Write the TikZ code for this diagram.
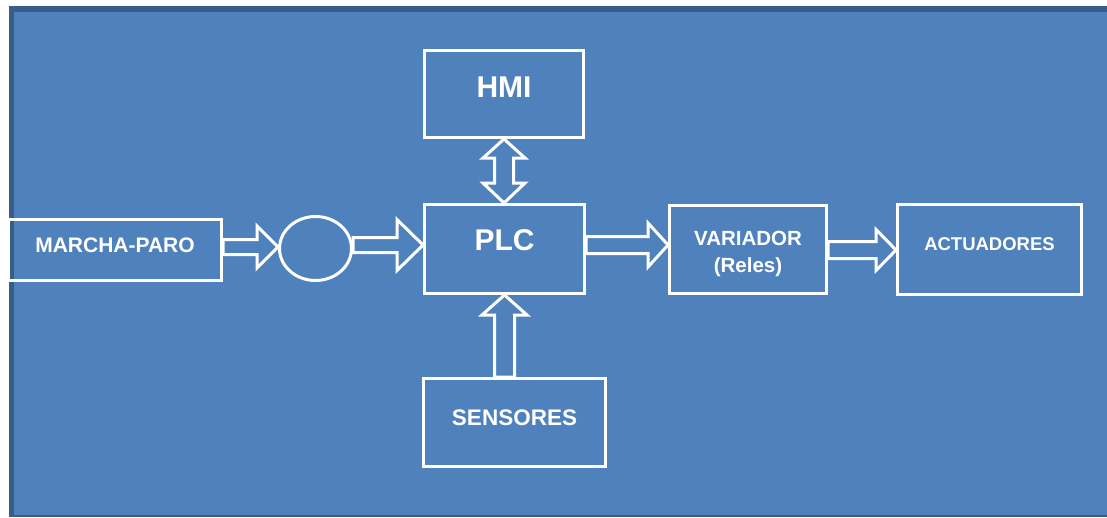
\documentclass[tikz,border=0pt]{standalone}
\usepackage{fontspec}
\setmainfont{Liberation Sans}
\usetikzlibrary{calc,shapes.geometric}
\definecolor{panel}{HTML}{4F81BD}
\definecolor{paneledge}{HTML}{385D8A}
% shift the glyphs of a label without changing its box
\newcommand\lift[2]{\raisebox{#1}[\height][\depth]{#2}}
% horizontal block arrow: from node #1 (east) to node #2 (west) along row #3,
% shaft half width #4, head half width #5, head length #6
\newcommand\harrow[6]{%
  \draw[blockarrow] let \p1=(#1.east), \p2=(#2.west) in
    (\x1,-#3pt+#4pt) -- (\x2-#6pt,-#3pt+#4pt) -- (\x2-#6pt,-#3pt+#5pt) --
    (\x2,-#3pt) -- (\x2-#6pt,-#3pt-#5pt) -- (\x2-#6pt,-#3pt-#4pt) --
    (\x1,-#3pt-#4pt) -- cycle;}
\begin{document}
\begin{tikzpicture}[x=1pt,y=-1pt,
  box/.style={draw=white, line width=3pt, rectangle, inner sep=0pt, text=white},
  blockarrow/.style={draw=white, line width=3pt, fill=panel, line join=miter}]
\useasboundingbox (0,0) rectangle (1107,517);
% panel with its dark frame
\fill[white] (0,0) rectangle (1107,517);
\fill[paneledge] (9,6) rectangle (1107,517);
\fill[panel] (14,12) rectangle (1107,515);

% blocks
\node[box, minimum width=213pt, minimum height=61pt,
      font=\bfseries\fontsize{21}{25}\selectfont] (marcha) at (115,250) {\lift{5pt}{MARCHA-PARO}};
\node[draw=white, line width=3pt, ellipse, inner sep=0pt,
      minimum width=72pt, minimum height=64pt] (junction) at (315.5,248.5) {};
\node[box, minimum width=160pt, minimum height=89pt,
      font=\bfseries\fontsize{30}{36}\selectfont] (plc) at (504.5,249) {\lift{9pt}{PLC}};
\node[box, minimum width=159pt, minimum height=87pt,
      font=\bfseries\fontsize{30}{36}\selectfont] (hmi) at (504,94) {\lift{7pt}{HMI}};
\node[box, minimum width=182pt, minimum height=88pt,
      font=\bfseries\fontsize{22.5}{27}\selectfont] (sensores) at (514.5,422.5) {\lift{5pt}{SENSORES}};
\node[box, minimum width=157pt, minimum height=88pt,
      font=\bfseries\fontsize{20.5}{27}\selectfont] (variador) at (748,249.5)
      {\lift{-4pt}{\begin{tabular}{@{}c@{}}VARIADOR\\(Reles)\end{tabular}}};
\node[box, minimum width=184pt, minimum height=90pt,
      font=\bfseries\fontsize{18.5}{22}\selectfont] (actuadores) at (989.5,249.5) {\lift{5pt}{ACTUADORES}};

% block arrows
\harrow{marcha}{junction}{247}{7.5}{21}{21}
\harrow{junction}{plc}{245}{7.5}{25.5}{26}
\harrow{plc}{variador}{245}{8.5}{22}{20}
\harrow{variador}{actuadores}{250}{8.5}{20.5}{20}

% two-way arrow between HMI and PLC
\draw[blockarrow] let \p1=(hmi.south), \p2=(plc.north) in
  (\x1,\y1) -- (\x1+21pt,\y1-19pt) -- (\x1+9.5pt,\y1-19pt) --
  (\x1+9.5pt,\y2+20pt) -- (\x1+21pt,\y2+20pt) -- (\x1,\y2) --
  (\x1-21pt,\y2+20pt) -- (\x1-9.5pt,\y2+20pt) -- (\x1-9.5pt,\y1-19pt) --
  (\x1-21pt,\y1-19pt) -- cycle;

% sensors feed the PLC
\draw[blockarrow] let \p1=(sensores.north), \p2=(plc.south) in
  (\x2-10pt,\y1) -- (\x2-10pt,\y2-20pt) -- (\x2-22.5pt,\y2-20pt) -- (\x2,\y2) --
  (\x2+22.5pt,\y2-20pt) -- (\x2+10pt,\y2-20pt) -- (\x2+10pt,\y1) -- cycle;
\end{tikzpicture}
\end{document}
